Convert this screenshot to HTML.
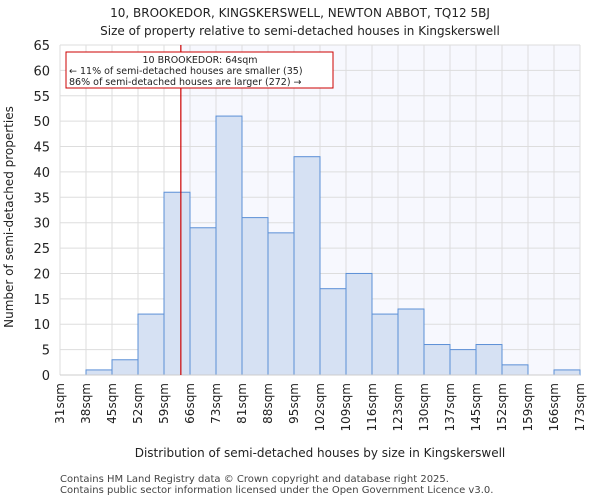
<!DOCTYPE html>
<html><head><meta charset="utf-8"><style>
body{margin:0;background:#fff;font-family:"DejaVu Sans","Liberation Sans",sans-serif}
svg text{font-family:"DejaVu Sans","Liberation Sans",sans-serif}
</style></head><body>
<svg id="c" width="600" height="500" xmlns="http://www.w3.org/2000/svg">
<text x="300" y="17" text-anchor="middle" font-size="12" fill="#222">10, BROOKEDOR, KINGSKERSWELL, NEWTON ABBOT, TQ12 5BJ</text>
<text x="300" y="35" text-anchor="middle" font-size="12" fill="#222">Size of property relative to semi-detached houses in Kingskerswell</text>
<g id="grid"></g><g id="bars"></g><g id="axes"></g>
<text x="320" y="457" text-anchor="middle" font-size="12" fill="#222">Distribution of semi-detached houses by size in Kingskerswell</text>
<text transform="translate(13,217) rotate(-90)" text-anchor="middle" font-size="12" fill="#222">Number of semi-detached properties</text>
<text x="60" y="482" font-size="10" fill="#444">Contains HM Land Registry data © Crown copyright and database right 2025.</text>
<text x="60" y="493" font-size="10" fill="#444">Contains public sector information licensed under the Open Government Licence v3.0.</text>
</svg>
<script>
const tickLabels=["31sqm","38sqm","45sqm","52sqm","59sqm","66sqm","73sqm","81sqm","88sqm","95sqm","102sqm","109sqm","116sqm","123sqm","130sqm","137sqm","145sqm","152sqm","159sqm","166sqm","173sqm"];
const counts=[0,1,3,12,36,29,51,31,28,43,17,20,12,13,6,5,6,2,0,1];
const yTicks=[0,5,10,15,20,25,30,35,40,45,50,55,60,65];
const binStart=31, binWidth=7.1, propertySize=64;
const NS="http://www.w3.org/2000/svg";
const L=60,R=580,T=45,B=375,yMax=65;
const n=counts.length, bw=(R-L)/n;
const x=i=>L+i*bw;
const y=v=>B-v/yMax*(B-T);
const xv=s=>L+(s-binStart)/binWidth*bw;
function mk(t,a,p){const e=document.createElementNS(NS,t);for(const k in a)e.setAttribute(k,a[k]);p.appendChild(e);return e;}
const g=document.getElementById('grid'),bg=document.getElementById('bars'),ax=document.getElementById('axes');
const rx=xv(propertySize);
const sh=mk('rect',{x:rx,y:T,width:R-rx,height:B-T,fill:'#f7f8fe'},g);


yTicks.forEach(v=>{
 const l=mk('line',{x1:L,x2:R,y1:y(v),y2:y(v),stroke:'#ddd','stroke-width':1},g);
 
 
 const t=mk('text',{x:L-10,y:y(v)+5,'text-anchor':'end','font-size':13,fill:'#222'},ax);
 t.textContent=v;
 
 
});
tickLabels.forEach((s,i)=>{
 const l=mk('line',{x1:x(i),x2:x(i),y1:T,y2:B,stroke:'#ddd','stroke-width':1},g);
 
 
 const t=mk('text',{transform:`translate(${x(i)+4},${B+8}) rotate(-90)`,'text-anchor':'end','font-size':12,fill:'#222'},ax);
 t.textContent=s;
 
 
});
counts.forEach((v,i)=>{
 if(v<=0)return;
 const r=mk('rect',{x:x(i),y:y(v),width:bw,height:B-y(v),fill:'#d6e1f3',stroke:'#5b8fd6','stroke-width':1},bg);
 
 
});
const base=mk('line',{x1:L,x2:R,y1:B,y2:B,stroke:'#ccc'},ax);


const ml=mk('line',{x1:rx,x2:rx,y1:T,y2:B,stroke:'#cc0000','stroke-width':1.2},ax);


const box=mk('rect',{x:66,y:52,width:267,height:36,fill:'#fff',stroke:'#cc0000','stroke-width':1},ax);


[["10 BROOKEDOR: 64sqm",200,'middle',63],["← 11% of semi-detached houses are smaller (35)",69,'start',74],["86% of semi-detached houses are larger (272) →",69,'start',85]].forEach(([s,xx,a,yy])=>{
 const t=mk('text',{x:xx,y:yy,'text-anchor':a,'font-size':9.5,fill:'#222'},ax);
 t.textContent=s;
 
 
});
</script>
</body></html>
